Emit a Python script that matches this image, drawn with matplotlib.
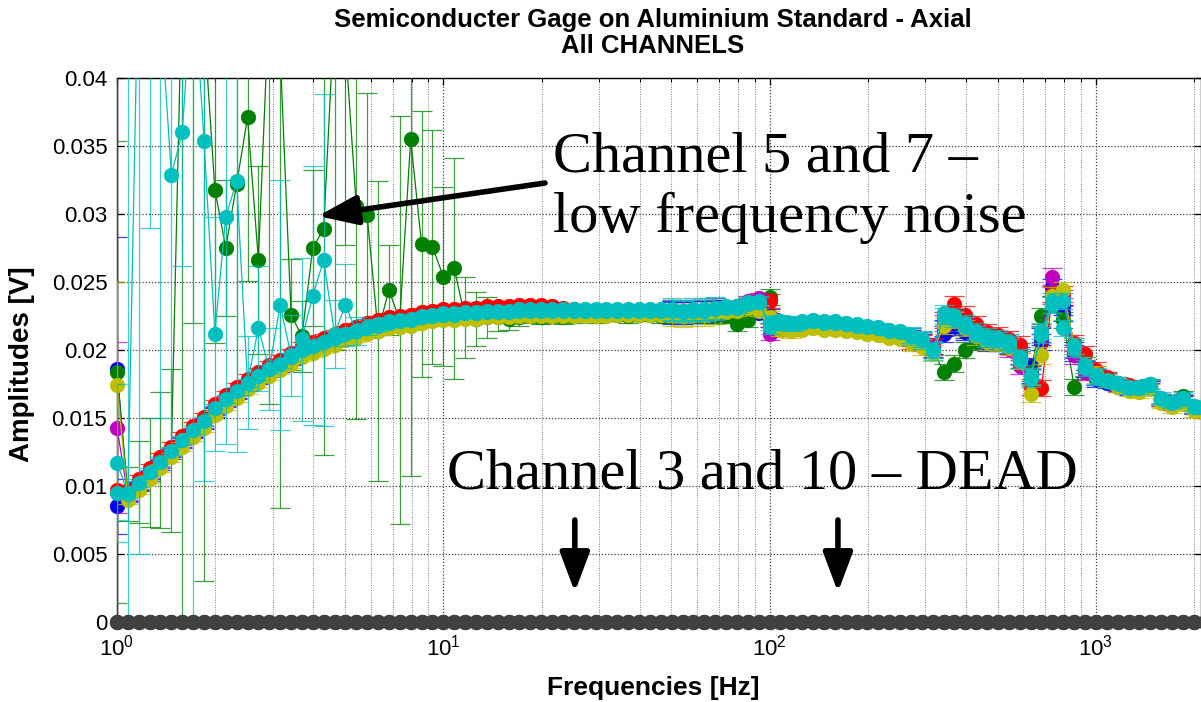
import numpy as np
import matplotlib
matplotlib.use("Agg")
import matplotlib.pyplot as plt

plt.rcParams['font.family'] = ['Liberation Sans', 'DejaVu Sans']

# Sweep frequencies [Hz]
freqs = [1.000, 1.080, 1.166, 1.259, 1.359, 1.468, 1.585, 1.711, 1.848, 1.995,
         2.154, 2.326, 2.512, 2.712, 2.929, 3.162, 3.415, 3.687, 3.981, 4.299,
         4.642, 5.012, 5.412, 5.843, 6.310, 6.813, 7.356, 7.943, 8.577, 9.261,
         10.00, 10.80, 11.66, 12.59, 13.59, 14.68, 15.85, 17.11, 18.48, 19.95,
         21.54, 23.26, 25.12, 27.12, 29.29, 31.62, 34.15, 36.87, 39.81, 42.99,
         46.42, 50.12, 54.12, 58.43, 63.10, 68.13, 73.56, 79.43, 85.77, 92.61,
         100.0, 108.0, 116.6, 125.9, 135.9, 146.8, 158.5, 171.1, 184.8, 199.5,
         215.4, 232.6, 251.2, 271.2, 292.9, 316.2, 341.5, 368.7, 398.1, 429.9,
         464.2, 501.2, 541.2, 584.3, 631.0, 681.3, 735.6, 794.3, 857.7, 926.1,
         1000, 1080, 1166, 1259, 1359, 1468, 1585, 1711, 1848, 1995,
         2154]

# Amplitudes [V] per channel
blue_a = [0.0186, 0.0091, 0.0099, 0.0107, 0.0115, 0.0123, 0.0131, 0.0138, 0.0145, 0.0154,
          0.0161, 0.0167, 0.0173, 0.0178, 0.0183, 0.0187, 0.0192, 0.0197, 0.0200, 0.0203,
          0.0206, 0.0209, 0.0211, 0.0214, 0.0216, 0.0218, 0.0219, 0.0220, 0.0222, 0.0223,
          0.0224, 0.0224, 0.0225, 0.0225, 0.0226, 0.0226, 0.0226, 0.0227, 0.0227, 0.0227,
          0.0227, 0.0227, 0.0227, 0.0227, 0.0227, 0.0227, 0.0227, 0.0227, 0.0227, 0.0227,
          0.0227, 0.0227, 0.0227, 0.0228, 0.0228, 0.0229, 0.0230, 0.0231, 0.0229, 0.0227,
          0.0222, 0.0219, 0.0218, 0.0219, 0.0220, 0.0219, 0.0219, 0.0218, 0.0217, 0.0216,
          0.0215, 0.0213, 0.0212, 0.0209, 0.0206, 0.0203, 0.0212, 0.0217, 0.0213, 0.0209,
          0.0205, 0.0205, 0.0203, 0.0196, 0.0188, 0.0206, 0.0246, 0.0227, 0.0200, 0.0186,
          0.0179, 0.0176, 0.0173, 0.0171, 0.0171, 0.0172, 0.0163, 0.0160, 0.0162, 0.0157,
          0.0156]
blue_b = [0.0085, 0.0092, 0.0100, 0.0108, 0.0116, 0.0124, 0.0132, 0.0139, 0.0146, 0.0155,
          0.0162, 0.0168, 0.0174, 0.0179, 0.0184, 0.0188, 0.0193, 0.0198, 0.0201, 0.0204,
          0.0207, 0.0210, 0.0212, 0.0215, 0.0217, 0.0219, 0.0220, 0.0221, 0.0223, 0.0224,
          0.0225, 0.0225, 0.0226, 0.0226, 0.0227, 0.0227, 0.0227, 0.0228, 0.0228, 0.0228,
          0.0228, 0.0228, 0.0228, 0.0228, 0.0228, 0.0228, 0.0228, 0.0228, 0.0228, 0.0228,
          0.0228, 0.0228, 0.0227, 0.0228, 0.0228, 0.0229, 0.0230, 0.0230, 0.0231, 0.0232,
          0.0225, 0.0220, 0.0219, 0.0220, 0.0221, 0.0220, 0.0220, 0.0219, 0.0218, 0.0217,
          0.0216, 0.0214, 0.0213, 0.0210, 0.0207, 0.0201, 0.0216, 0.0220, 0.0215, 0.0211,
          0.0207, 0.0206, 0.0204, 0.0193, 0.0182, 0.0210, 0.0240, 0.0232, 0.0198, 0.0187,
          0.0180, 0.0177, 0.0174, 0.0172, 0.0172, 0.0173, 0.0164, 0.0161, 0.0163, 0.0158,
          0.0157]
green_noisy = [0.0184, 0.0094, 0.0103, 0.0110, 0.0119, 0.0126, 0.0480, 0.0520, 0.0440, 0.0318,
               0.0275, 0.0322, 0.0371, 0.0266, 0.0460, 0.0420, 0.0226, 0.0210, 0.0275, 0.0289,
               0.0450, 0.0425, 0.0306, 0.0299, 0.0214, 0.0244, 0.0222, 0.0355, 0.0278, 0.0276,
               0.0254, 0.0260, 0.0224, 0.0223, 0.0224, 0.0224, 0.0223, 0.0224, 0.0225, 0.0224,
               0.0225, 0.0224, 0.0225, 0.0226, 0.0225, 0.0226, 0.0226, 0.0225, 0.0226, 0.0226,
               0.0225, 0.0226, 0.0225, 0.0226, 0.0226, 0.0225, 0.0225, 0.0219, 0.0222, 0.0230,
               0.0239, 0.0217, 0.0217, 0.0218, 0.0219, 0.0218, 0.0218, 0.0217, 0.0216, 0.0215,
               0.0214, 0.0213, 0.0212, 0.0209, 0.0207, 0.0200, 0.0184, 0.0190, 0.0200, 0.0206,
               0.0206, 0.0206, 0.0205, 0.0199, 0.0183, 0.0225, 0.0234, 0.0222, 0.0173, 0.0190,
               0.0183, 0.0178, 0.0175, 0.0173, 0.0171, 0.0175, 0.0163, 0.0161, 0.0166, 0.0158,
               0.0157]
red = [0.0097, 0.0097, 0.0105, 0.0113, 0.0121, 0.0129, 0.0137, 0.0144, 0.0151, 0.0160,
       0.0167, 0.0173, 0.0179, 0.0184, 0.0189, 0.0193, 0.0198, 0.0203, 0.0206, 0.0209,
       0.0212, 0.0215, 0.0217, 0.0220, 0.0222, 0.0224, 0.0225, 0.0226, 0.0228, 0.0229,
       0.0230, 0.0230, 0.0231, 0.0231, 0.0232, 0.0232, 0.0232, 0.0233, 0.0233, 0.0233,
       0.0232, 0.0231, 0.0230, 0.0229, 0.0229, 0.0229, 0.0229, 0.0229, 0.0229, 0.0229,
       0.0229, 0.0229, 0.0228, 0.0229, 0.0229, 0.0230, 0.0231, 0.0231, 0.0234, 0.0237,
       0.0236, 0.0215, 0.0215, 0.0216, 0.0217, 0.0216, 0.0216, 0.0215, 0.0214, 0.0213,
       0.0212, 0.0211, 0.0210, 0.0207, 0.0205, 0.0203, 0.0222, 0.0234, 0.0226, 0.0219,
       0.0213, 0.0211, 0.0208, 0.0204, 0.0173, 0.0172, 0.0241, 0.0241, 0.0205, 0.0197,
       0.0185, 0.0180, 0.0176, 0.0174, 0.0171, 0.0173, 0.0163, 0.0160, 0.0162, 0.0158,
       0.0157]
magenta = [0.0143, 0.0093, 0.0101, 0.0109, 0.0117, 0.0125, 0.0133, 0.0140, 0.0147, 0.0156,
           0.0163, 0.0169, 0.0175, 0.0180, 0.0185, 0.0189, 0.0194, 0.0199, 0.0202, 0.0205,
           0.0208, 0.0211, 0.0213, 0.0216, 0.0218, 0.0220, 0.0221, 0.0222, 0.0224, 0.0225,
           0.0226, 0.0226, 0.0227, 0.0227, 0.0228, 0.0228, 0.0228, 0.0229, 0.0229, 0.0229,
           0.0229, 0.0229, 0.0229, 0.0229, 0.0229, 0.0229, 0.0229, 0.0229, 0.0229, 0.0229,
           0.0229, 0.0229, 0.0228, 0.0229, 0.0229, 0.0230, 0.0231, 0.0232, 0.0236, 0.0238,
           0.0212, 0.0218, 0.0218, 0.0219, 0.0220, 0.0219, 0.0219, 0.0218, 0.0217, 0.0216,
           0.0215, 0.0213, 0.0212, 0.0209, 0.0206, 0.0202, 0.0220, 0.0222, 0.0217, 0.0212,
           0.0208, 0.0207, 0.0201, 0.0188, 0.0180, 0.0212, 0.0254, 0.0238, 0.0196, 0.0184,
           0.0180, 0.0177, 0.0174, 0.0172, 0.0172, 0.0174, 0.0164, 0.0161, 0.0164, 0.0158,
           0.0157]
yellow = [0.0174, 0.0090, 0.0097, 0.0105, 0.0113, 0.0121, 0.0129, 0.0136, 0.0143, 0.0152,
          0.0159, 0.0165, 0.0171, 0.0176, 0.0181, 0.0185, 0.0190, 0.0195, 0.0198, 0.0201,
          0.0204, 0.0207, 0.0209, 0.0212, 0.0214, 0.0216, 0.0217, 0.0218, 0.0220, 0.0221,
          0.0222, 0.0222, 0.0223, 0.0223, 0.0224, 0.0224, 0.0224, 0.0225, 0.0225, 0.0225,
          0.0225, 0.0225, 0.0225, 0.0225, 0.0225, 0.0225, 0.0226, 0.0226, 0.0226, 0.0226,
          0.0226, 0.0226, 0.0225, 0.0226, 0.0226, 0.0227, 0.0228, 0.0229, 0.0231, 0.0229,
          0.0224, 0.0215, 0.0214, 0.0215, 0.0216, 0.0215, 0.0215, 0.0214, 0.0213, 0.0212,
          0.0211, 0.0209, 0.0208, 0.0205, 0.0202, 0.0198, 0.0218, 0.0222, 0.0216, 0.0210,
          0.0206, 0.0205, 0.0202, 0.0192, 0.0168, 0.0196, 0.0240, 0.0244, 0.0203, 0.0189,
          0.0182, 0.0177, 0.0173, 0.0170, 0.0169, 0.0171, 0.0161, 0.0158, 0.0160, 0.0155,
          0.0154]
cyan_noisy = [0.0117, 0.0095, 0.0500, 0.0470, 0.0450, 0.0329, 0.0360, 0.0480, 0.0354, 0.0212,
              0.0298, 0.0324, 0.0176, 0.0216, 0.0186, 0.0233, 0.0196, 0.0208, 0.0240, 0.0266,
              0.0212, 0.0233, 0.0214, 0.0217, 0.0218, 0.0220, 0.0221, 0.0222, 0.0224, 0.0225,
              0.0226, 0.0226, 0.0227, 0.0227, 0.0228, 0.0228, 0.0228, 0.0229, 0.0229, 0.0229,
              0.0229, 0.0229, 0.0229, 0.0229, 0.0229, 0.0229, 0.0229, 0.0229, 0.0229, 0.0229,
              0.0229, 0.0229, 0.0228, 0.0229, 0.0229, 0.0230, 0.0231, 0.0231, 0.0234, 0.0235,
              0.0220, 0.0220, 0.0219, 0.0220, 0.0221, 0.0220, 0.0220, 0.0219, 0.0218, 0.0217,
              0.0216, 0.0214, 0.0213, 0.0210, 0.0207, 0.0199, 0.0225, 0.0223, 0.0218, 0.0212,
              0.0208, 0.0207, 0.0204, 0.0193, 0.0181, 0.0211, 0.0233, 0.0216, 0.0203, 0.0187,
              0.0180, 0.0177, 0.0175, 0.0172, 0.0172, 0.0174, 0.0164, 0.0161, 0.0164, 0.0158,
              0.0157]
cyan = [0.0095, 0.0094, 0.0102, 0.0110, 0.0118, 0.0126, 0.0134, 0.0141, 0.0148, 0.0157,
        0.0164, 0.0170, 0.0176, 0.0181, 0.0186, 0.0190, 0.0195, 0.0200, 0.0203, 0.0206,
        0.0209, 0.0212, 0.0214, 0.0217, 0.0219, 0.0221, 0.0222, 0.0223, 0.0225, 0.0226,
        0.0227, 0.0227, 0.0228, 0.0228, 0.0229, 0.0229, 0.0229, 0.0230, 0.0230, 0.0230,
        0.0230, 0.0230, 0.0230, 0.0230, 0.0230, 0.0230, 0.0230, 0.0230, 0.0230, 0.0230,
        0.0230, 0.0230, 0.0229, 0.0230, 0.0230, 0.0231, 0.0232, 0.0232, 0.0235, 0.0236,
        0.0217, 0.0221, 0.0220, 0.0221, 0.0222, 0.0221, 0.0221, 0.0220, 0.0219, 0.0218,
        0.0217, 0.0215, 0.0214, 0.0211, 0.0208, 0.0200, 0.0227, 0.0225, 0.0220, 0.0214,
        0.0210, 0.0209, 0.0206, 0.0195, 0.0179, 0.0214, 0.0236, 0.0236, 0.0201, 0.0189,
        0.0181, 0.0178, 0.0176, 0.0173, 0.0173, 0.0175, 0.0165, 0.0162, 0.0165, 0.0159,
        0.0158]
dead = [0.0] * len(freqs)   # channels 3 and 10 read flat zero

# Standard deviations (error bars)
err_band = [0.0, 0.0003, 0.0003, 0.0003, 0.0003, 0.0003, 0.0003, 0.0003, 0.0003, 0.0003,
            0.0003, 0.0003, 0.0003, 0.0003, 0.0003, 0.0003, 0.0003, 0.0003, 0.0003, 0.0003,
            0.0003, 0.0003, 0.0003, 0.0003, 0.0003, 0.0003, 0.0003, 0.0003, 0.0003, 0.0003,
            0.0003, 0.0003, 0.0003, 0.0003, 0.0003, 0.0003, 0.0003, 0.0003, 0.0003, 0.0003,
            0.0002, 0.0002, 0.0002, 0.0002, 0.0002, 0.0002, 0.0002, 0.0002, 0.0002, 0.0002,
            0.0002, 0.0008, 0.0008, 0.0008, 0.0008, 0.0008, 0.0004, 0.0004, 0.0004, 0.0004,
            0.0005, 0.0005, 0.0005, 0.0003, 0.0003, 0.0003, 0.0003, 0.0003, 0.0003, 0.0003,
            0.0003, 0.0003, 0.0003, 0.0006, 0.0006, 0.0006, 0.0006, 0.0006, 0.0006, 0.0006,
            0.0006, 0.0006, 0.0006, 0.0006, 0.0006, 0.0006, 0.0006, 0.0006, 0.0006, 0.0006,
            0.0006, 0.0004, 0.0004, 0.0004, 0.0004, 0.0004, 0.0004, 0.0004, 0.0004, 0.0004,
            0.0004]
err_green_noisy = [0.0170, 0.0020, 0.0030, 0.0040, 0.0050, 0.0060, 0.0500, 0.0300, 0.0410, 0.0113,
                   0.0050, 0.0150, 0.0120, 0.0069, 0.0300, 0.0336, 0.0041, 0.0026, 0.0057, 0.0166,
                   0.0250, 0.0148, 0.0157, 0.0090, 0.0110, 0.0033, 0.0150, 0.0248, 0.0098, 0.0086,
                   0.0066, 0.0081, 0.0030, 0.0020, 0.0015, 0.0010, 0.0008, 0.0006, 0.0005, 0.0005,
                   0.0005, 0.0005, 0.0005, 0.0005, 0.0005, 0.0005, 0.0005, 0.0005, 0.0005, 0.0005,
                   0.0005, 0.0006, 0.0006, 0.0006, 0.0006, 0.0006, 0.0005, 0.0005, 0.0005, 0.0005,
                   0.0006, 0.0004, 0.0004, 0.0004, 0.0004, 0.0004, 0.0004, 0.0006, 0.0006, 0.0004,
                   0.0004, 0.0004, 0.0004, 0.0004, 0.0005, 0.0006, 0.0006, 0.0006, 0.0006, 0.0006,
                   0.0006, 0.0005, 0.0005, 0.0006, 0.0006, 0.0006, 0.0006, 0.0006, 0.0006, 0.0005,
                   0.0005, 0.0005, 0.0004, 0.0004, 0.0004, 0.0004, 0.0004, 0.0004, 0.0004, 0.0004,
                   0.0004]
err_cyan_noisy = [0.0058, 0.0400, 0.0450, 0.0180, 0.0300, 0.0200, 0.0098, 0.0500, 0.0250, 0.0086,
                  0.0167, 0.0199, 0.0034, 0.0046, 0.0030, 0.0092, 0.0030, 0.0060, 0.0095, 0.0122,
                  0.0025, 0.0030, 0.0010, 0.0006, 0.0004, 0.0003, 0.0003, 0.0003, 0.0003, 0.0003,
                  0.0003, 0.0003, 0.0003, 0.0003, 0.0003, 0.0003, 0.0003, 0.0003, 0.0003, 0.0003,
                  0.0002, 0.0002, 0.0002, 0.0002, 0.0002, 0.0002, 0.0002, 0.0002, 0.0002, 0.0002,
                  0.0002, 0.0008, 0.0008, 0.0008, 0.0008, 0.0008, 0.0004, 0.0004, 0.0004, 0.0004,
                  0.0005, 0.0005, 0.0005, 0.0003, 0.0003, 0.0003, 0.0003, 0.0003, 0.0003, 0.0003,
                  0.0003, 0.0003, 0.0003, 0.0006, 0.0006, 0.0006, 0.0006, 0.0006, 0.0006, 0.0006,
                  0.0006, 0.0006, 0.0006, 0.0006, 0.0006, 0.0006, 0.0006, 0.0006, 0.0006, 0.0006,
                  0.0006, 0.0004, 0.0004, 0.0004, 0.0004, 0.0004, 0.0004, 0.0004, 0.0004, 0.0004,
                  0.0004]

# error of the first (1 Hz) point for the clean channels
first_err = {'blue_a': 0.0097, 'blue_b': 0.0020, 'red': 0.0350,
             'magenta': 0.0063, 'yellow': 0.0076, 'cyan': 0.0020}

y_ticks = [0, 0.005, 0.01, 0.015, 0.02, 0.025, 0.03, 0.035, 0.04]
y_tick_labels = ['0', '0.005', '0.01', '0.015', '0.02', '0.025', '0.03', '0.035', '0.04']

# MATLAB colour order
C_BLUE = (0, 0, 1)
C_GREEN = (0, 0.5, 0)
C_RED = (1, 0, 0)
C_CYAN = (0, 0.75, 0.75)
C_MAGENTA = (0.75, 0, 0.75)
C_YELLOW = (0.75, 0.75, 0)
C_GRAY = (0.25, 0.25, 0.25)

YMAX = 0.04


def with_first(err, first):
    return [first] + list(err[1:])


def draw_channel(ax, f, vals, errs, color, z):
    f = np.asarray(f, dtype=float)
    v = np.asarray(vals, dtype=float)
    e = np.asarray(errs, dtype=float)
    if np.any(e > 0):
        ax.errorbar(f, v, yerr=e, fmt='none', ecolor=color, elinewidth=0.9,
                    capsize=7, capthick=0.9, alpha=0.75, zorder=z)
    ax.plot(f, v, '-', color=color, lw=0.9, zorder=z + 0.001)
    # markers are not clipped at the axes edge (MATLAB style), only off-scale points hidden
    shown = np.where(v <= YMAX + 0.0005, v, np.nan)
    ax.plot(f, shown, 'o', ms=10.5, color=color, mec=color, mew=0.5,
            clip_on=False, zorder=z + 0.002)


fig = plt.figure(figsize=(12.01, 7.02), dpi=100)
W, H = 1201, 702
ax = fig.add_axes([117 / W, 1 - 622 / H, (W - 117) / W, (622 - 78) / H])

ax.set_xscale('log')
ax.set_xlim(1, 2100)
ax.set_ylim(0, YMAX)

channels = [
    (blue_a, with_first(err_band, first_err['blue_a']), C_BLUE),
    (blue_b, with_first(err_band, first_err['blue_b']), C_BLUE),
    (green_noisy, err_green_noisy, C_GREEN),
    (red, with_first(err_band, first_err['red']), C_RED),
    (magenta, with_first(err_band, first_err['magenta']), C_MAGENTA),
    (yellow, with_first(err_band, first_err['yellow']), C_YELLOW),
    (cyan_noisy, err_cyan_noisy, C_CYAN),
    (cyan, with_first(err_band, first_err['cyan']), C_CYAN),
    (dead, [0.0] * len(dead), C_GRAY),
    (dead, [0.0] * len(dead), C_GRAY),
]
for k, (vals, errs, col) in enumerate(channels):
    draw_channel(ax, freqs, vals, errs, col, 3 + k * 0.01)

# axes styling
ax.set_yticks(y_ticks)
ax.set_yticklabels(y_tick_labels)
ax.tick_params(which='both', direction='in', top=True, right=True, labelsize=16)
ax.tick_params(which='major', length=5, width=0.9)
ax.tick_params(which='minor', length=3, width=0.7)
ax.tick_params(axis='x', which='major', pad=9)
ax.tick_params(axis='y', which='major', pad=7)
ax.grid(which='major', axis='both', linestyle=(0, (1, 1.5)), color='0.25', lw=0.9)
ax.grid(which='minor', axis='x', linestyle=(0, (1, 1.5)), color='0.5', lw=0.7)
ax.set_axisbelow(True)
for sp in ax.spines.values():
    sp.set_linewidth(1.0)

# titles and labels
cx = 653 / W
fig.text(cx, 1 - 20 / H, 'Semiconducter Gage on Aluminium Standard - Axial',
         ha='center', va='center', fontsize=18.5, fontweight='bold')
fig.text(cx, 1 - 46 / H, 'All CHANNELS', ha='center', va='center',
         fontsize=18.5, fontweight='bold')
fig.text(cx, 1 - 688 / H, 'Frequencies [Hz]', ha='center', va='center',
         fontsize=19, fontweight='bold')
fig.text(22 / W, 1 - 364 / H, 'Amplitudes [V]', ha='center', va='center',
         rotation=90, fontsize=20, fontweight='bold')

# annotations
serif = ['Liberation Serif', 'DejaVu Serif']
ax.text(21.7, 0.0331, 'Channel 5 and 7 \u2013', family=serif, fontsize=42,
        ha='left', va='baseline', zorder=10)
ax.text(21.7, 0.0287, 'low frequency noise', family=serif, fontsize=42,
        ha='left', va='baseline', zorder=10)
ax.text(10.26, 0.00985, 'Channel 3 and 10 \u2013 DEAD', family=serif, fontsize=42,
        ha='left', va='baseline', zorder=10)

arrow = dict(arrowstyle='-|>,head_length=1.2,head_width=0.45', lw=4, color='k',
             shrinkA=0, shrinkB=0, mutation_scale=20)
ax.annotate('', xy=(4.13, 0.02985), xytext=(20.5, 0.03228), arrowprops=arrow, zorder=10)
ax.annotate('', xy=(25.3, 0.0022), xytext=(25.3, 0.0075), arrowprops=arrow, zorder=10)
ax.annotate('', xy=(162, 0.0022), xytext=(162, 0.0075), arrowprops=arrow, zorder=10)

fig.savefig('out.png', dpi=100)
